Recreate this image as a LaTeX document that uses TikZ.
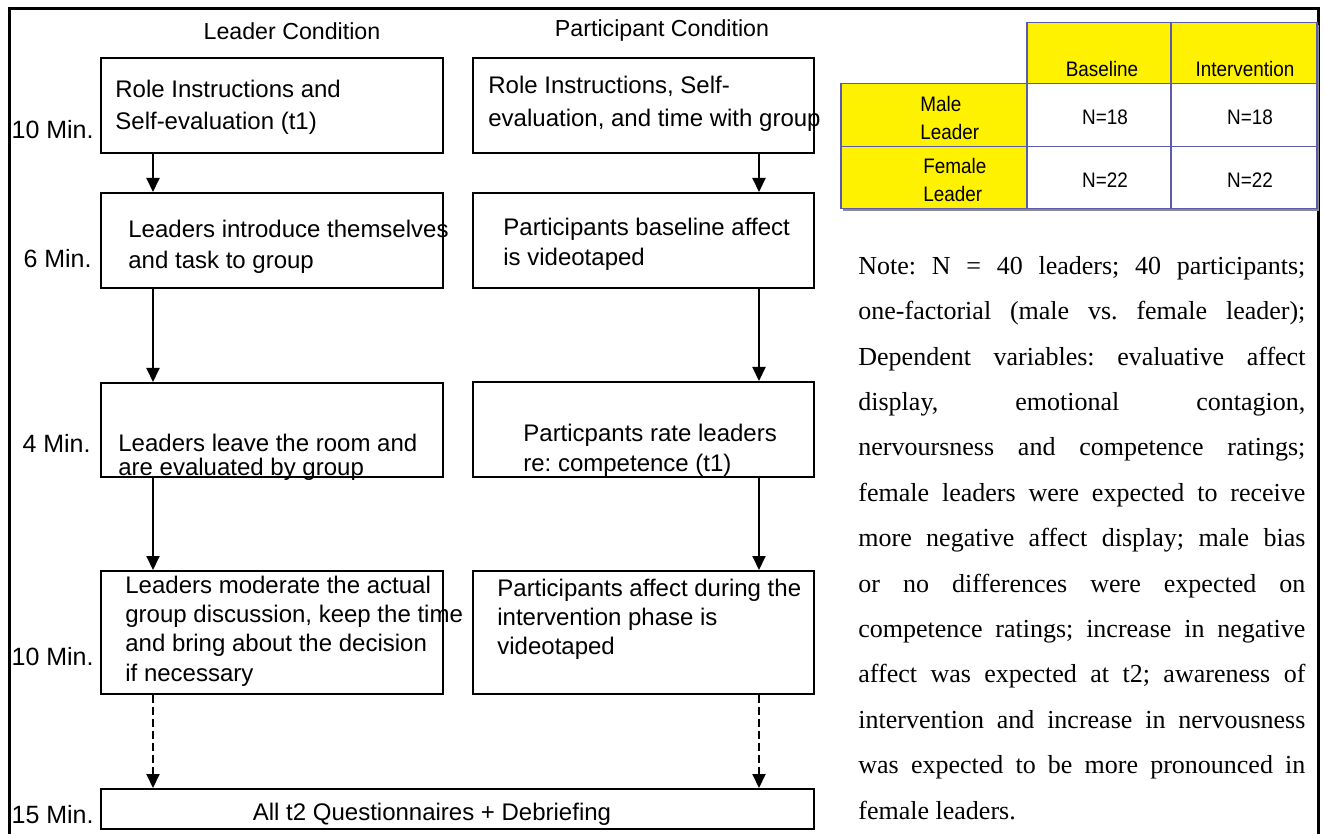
\documentclass[tikz,border=0pt]{standalone}
\usepackage{fontspec}
\setmainfont{Liberation Sans}
\newfontfamily\notefont{Liberation Serif}
\newfontfamily\cellfont[FakeStretch=0.9]{Liberation Sans}
\usetikzlibrary{arrows.meta,calc}
\definecolor{tableline}{RGB}{90,90,175}
\definecolor{tableshadow}{RGB}{140,140,140}
\frenchspacing

\begin{document}
\begin{tikzpicture}[x=0.5pt,y=-0.5pt,
  outerframe/.style={line width=1.5pt},
  box/.style={draw, line width=1pt, inner sep=0pt, anchor=north west},
  boxtext/.style={inner sep=0pt, anchor=north west, align=left,
    font=\fontsize{12}{#1}\selectfont},
  boxtext/.default=15,
  timelabel/.style={inner sep=0pt, anchor=east, font=\fontsize{12.5}{15}\selectfont},
  heading/.style={inner sep=0pt, font=\fontsize{11.6}{14}\selectfont},
  flow/.style={line width=1pt, -{Triangle[length=7pt,width=6.5pt]}},
  flowdash/.style={flow, dash pattern=on 4pt off 2pt},
  cell/.style={draw=tableline, line width=0.75pt, fill=#1, inner sep=0pt, anchor=north west},
  celltext/.style={inner sep=0pt, font=\cellfont\fontsize{10.5}{14}\selectfont},
  note/.style={inner sep=0pt, anchor=north west, text width=223.5pt, align=justify,
    font=\notefont\fontsize{13}{22.7}\selectfont},
]
\useasboundingbox (0,0) rectangle (1324,834);

% open frame round the whole figure
\draw[outerframe] (9,834) -- (9,9) -- (1318,9) -- (1318,834);

% column headings
\node[heading] (hl) at (292,31) {Leader Condition};
\node[heading] (hp) at (662,31) {Participant Condition};

% step boxes, leader column
\node[box, minimum width=171pt, minimum height=47.5pt] (L1) at (100,57) {};
\node[box, minimum width=171pt, minimum height=47.5pt] (L2) at (100,192) {};
\node[box, minimum width=171pt, minimum height=47pt]   (L3) at (100,382) {};
\node[box, minimum width=171pt, minimum height=61.5pt] (L4) at (100,570) {};
% step boxes, participant column
\node[box, minimum width=170.5pt, minimum height=47.5pt] (P1) at (472,57) {};
\node[box, minimum width=170.5pt, minimum height=47.5pt] (P2) at (472,192) {};
\node[box, minimum width=170.5pt, minimum height=47.5pt] (P3) at (472,381) {};
\node[box, minimum width=170.5pt, minimum height=61.5pt] (P4) at (472,570) {};
% final common step
\node[box, minimum width=356.5pt, minimum height=20pt] (F) at (100,788) {};

% box texts
\node[boxtext=16] (L1t) at (115,77) {\rule{0pt}{10pt}Role Instructions and\\Self-evaluation (t1)};
\node[boxtext=16.5] (P1t) at (488,73) {\rule{0pt}{10pt}Role Instructions, Self-\\evaluation, and time with group};
\node[boxtext=15.5] (L2t) at (128,217) {\rule{0pt}{10pt}Leaders introduce themselves\\and task to group};
\node[boxtext=15] (P2t) at (503,215) {\rule{0pt}{10pt}Participants baseline affect\\is videotaped};
\node[boxtext=12] (L3t) at (118,431) {\rule{0pt}{10pt}Leaders leave the room and\\are evaluated by group};
\node[boxtext=15] (P3t) at (523,421) {\rule{0pt}{10pt}Particpants rate leaders\\re: competence (t1)};
\node[boxtext=14.6] (L4t) at (125,573) {\rule{0pt}{10pt}Leaders moderate the actual\\group discussion, keep the time\\and bring about the decision\\if necessary};
\node[boxtext=14.6] (P4t) at (497,576) {\rule{0pt}{10pt}Participants affect during the\\intervention phase is\\videotaped};
\node[heading, font=\fontsize{12}{14}\selectfont] (Ft) at (432,814) {All t2 Questionnaires + Debriefing};

% durations
\node[timelabel] (t1) at (94,130) {10 Min.};
\node[timelabel] (t2) at (92,259) {6 Min.};
\node[timelabel] (t3) at (91,443) {4 Min.};
\node[timelabel] (t4) at (94,657) {10 Min.};
\node[timelabel] (t5) at (94,815) {15 Min.};

% connectors
\coordinate (lx) at (153,0);
\coordinate (px) at (759,0);
\draw[flow] (L1.south -| lx) -- (L2.north -| lx);
\draw[flow] (L2.south -| lx) -- (L3.north -| lx);
\draw[flow] (L3.south -| lx) -- (L4.north -| lx);
\draw[flowdash] (L4.south -| lx) -- (F.north -| lx);
\draw[flow] (P1.south -| px) -- (P2.north -| px);
\draw[flow] (P2.south -| px) -- (P3.north -| px);
\draw[flow] (P3.south -| px) -- (P4.north -| px);
\draw[flowdash] (P4.south -| px) -- (F.north -| px);

% design table: drop shadow, then cells
\fill[tableshadow] (1029,25) rectangle (1319,86);
\fill[tableshadow] (843,86) rectangle (1319,211);
\node[cell=yellow, minimum width=72pt, minimum height=30.5pt] (hb) at (1026,22) {};
\node[cell=yellow, minimum width=73pt, minimum height=30.5pt] (hi) at (1170,22) {};
\node[cell=yellow, minimum width=93pt, minimum height=31.5pt] (rm) at (840,83) {};
\node[cell=white,  minimum width=72pt, minimum height=31.5pt] (m1) at (1026,83) {};
\node[cell=white,  minimum width=73pt, minimum height=31.5pt] (m2) at (1170,83) {};
\node[cell=yellow, minimum width=93pt, minimum height=31pt]   (rf) at (840,146) {};
\node[cell=white,  minimum width=72pt, minimum height=31pt]   (f1) at (1026,146) {};
\node[cell=white,  minimum width=73pt, minimum height=31pt]   (f2) at (1170,146) {};

\node[celltext, anchor=base] (hbt) at (1102,77) {Baseline};
\node[celltext, anchor=base] (hit) at (1245,77) {Intervention};
\node[celltext, anchor=north west, align=left] (rmt) at (920,92) {\rule{0pt}{9.5pt}Male\\Leader};
\node[celltext, anchor=north west, align=left] (rft) at (923,154) {\rule{0pt}{9.5pt}Female\\Leader};
\node[celltext, anchor=base] (m1t) at (1105,125) {N=18};
\node[celltext, anchor=base] (m2t) at (1250,125) {N=18};
\node[celltext, anchor=base] (f1t) at (1105,188) {N=22};
\node[celltext, anchor=base] (f2t) at (1250,188) {N=22};

% note on the design
\node[note] (nt) at (858,254) {\tolerance=10000\rule{0pt}{10pt}Note: N = 40 leaders; 40 participants;\linebreak
one-factorial (male vs. female leader);\linebreak
Dependent variables: evaluative affect\linebreak
display, emotional contagion,\linebreak
nervoursness and competence ratings;\linebreak
female leaders were expected to receive\linebreak
more negative affect display; male bias\linebreak
or no differences were expected on\linebreak
competence ratings; increase in negative\linebreak
affect was expected at t2; awareness of\linebreak
intervention and increase in nervousness\linebreak
was expected to be more pronounced in\linebreak
female leaders.};
\end{tikzpicture}
\end{document}
